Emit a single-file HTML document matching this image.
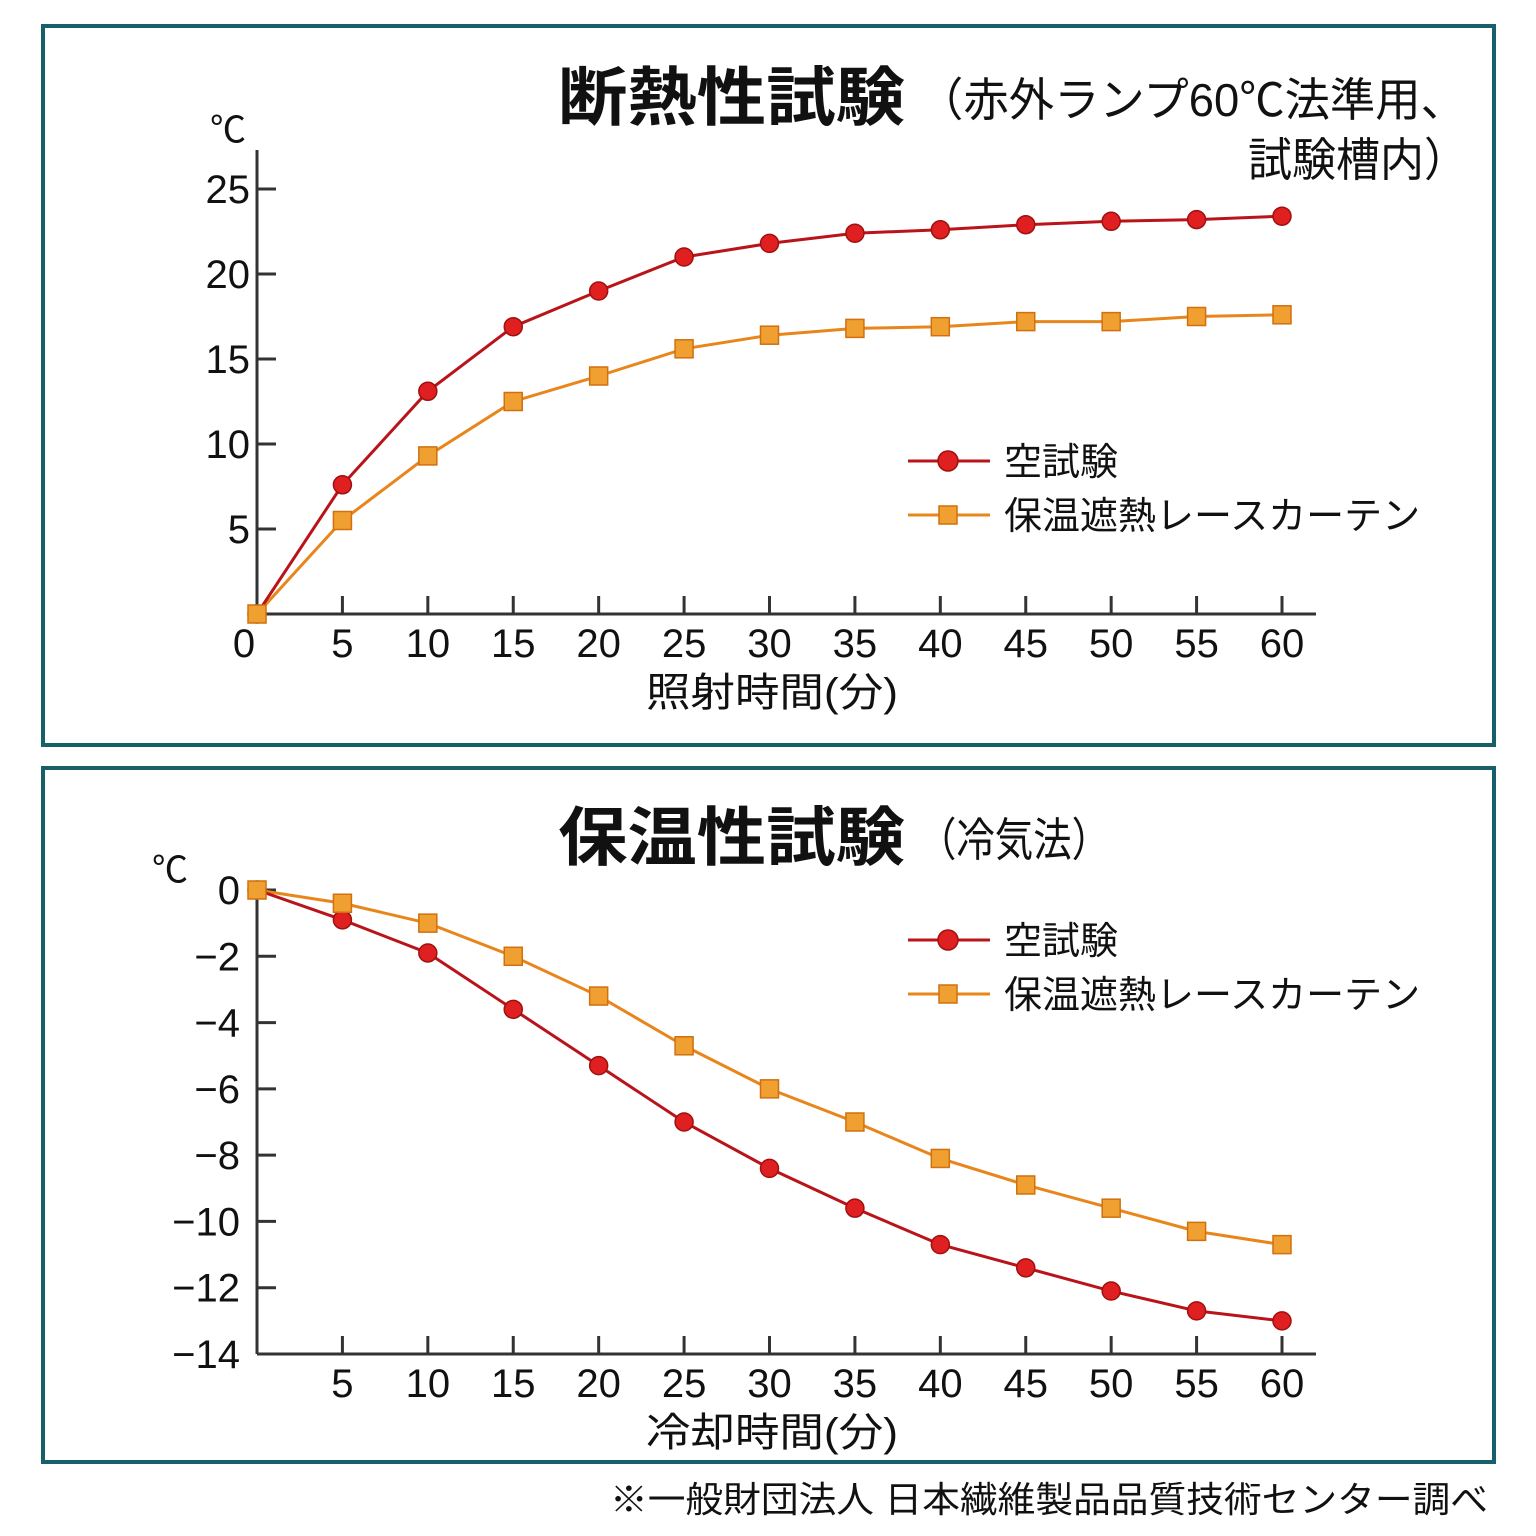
<!DOCTYPE html>
<html><head><meta charset="utf-8"><style>
html,body{margin:0;padding:0;background:#fff;}
svg{display:block;font-family:"Liberation Sans","Noto Sans CJK JP",sans-serif;}
</style></head><body>
<svg id="s" width="1536" height="1536" viewBox="0 0 1536 1536">
<rect x="0" y="0" width="1536" height="1536" fill="#fff"/>
<rect x="43" y="26" width="1451" height="719" fill="#fff" stroke="#17606a" stroke-width="4"/>
<rect x="43" y="768" width="1451" height="694" fill="#fff" stroke="#17606a" stroke-width="4"/>
<text x="558" y="120" font-size="64" font-weight="bold" fill="#111" textLength="347" lengthAdjust="spacingAndGlyphs">断熱性試験</text>
<text x="918" y="116" font-size="46" fill="#111" textLength="548" lengthAdjust="spacingAndGlyphs">（赤外ランプ60℃法準用、</text>
<text x="1248" y="176" font-size="46" fill="#111" textLength="220" lengthAdjust="spacingAndGlyphs">試験槽内）</text>
<text x="558" y="860" font-size="64" font-weight="bold" fill="#111" textLength="347" lengthAdjust="spacingAndGlyphs">保温性試験</text>
<text x="918" y="856" font-size="46" fill="#111" textLength="192" lengthAdjust="spacingAndGlyphs">（冷気法）</text>
<text x="610" y="1512" font-size="36" fill="#111" textLength="878" lengthAdjust="spacingAndGlyphs">※一般財団法人 日本繊維製品品質技術センター調べ</text>
<g id="g1"></g><g id="g2"></g>
</svg>
<script>
const xCats=[0,5,10,15,20,25,30,35,40,45,50,55,60];
const topRed=[0,7.6,13.1,16.9,19.0,21.0,21.8,22.4,22.6,22.9,23.1,23.2,23.4];
const topOrange=[0,5.5,9.3,12.5,14.0,15.6,16.4,16.8,16.9,17.2,17.2,17.5,17.6];
const topYTicks=[5,10,15,20,25];
const botRed=[0,-0.9,-1.9,-3.6,-5.3,-7.0,-8.4,-9.6,-10.7,-11.4,-12.1,-12.7,-13.0];
const botOrange=[0,-0.4,-1.0,-2.0,-3.2,-4.7,-6.0,-7.0,-8.1,-8.9,-9.6,-10.3,-10.7];
const botYTicks=[0,-2,-4,-6,-8,-10,-12,-14];
const seriesNames=['空試験','保温遮熱レースカーテン'];
const NS='http://www.w3.org/2000/svg';
function mk(p,t,a){const e=document.createElementNS(NS,t);for(const k in a)e.setAttribute(k,a[k]);p.appendChild(e);return e;}
function chart(g,o){
  const xs=v=>257+(v/60)*1025;
  const ys=v=>o.y0+(v-o.vmin)*(o.y1-o.y0)/(o.vmax-o.vmin);
  const ax=mk(g,'line',{x1:257,y1:o.axTop,x2:257,y2:ys(o.vmin),stroke:'#333','stroke-width':3});
  
  
  const xa=mk(g,'line',{x1:257,y1:ys(o.vmin),x2:1316,y2:ys(o.vmin),stroke:'#333','stroke-width':3});
  
  
  o.yt.forEach(v=>{
    if(v!==o.vmin){const tk=mk(g,'line',{x1:257,y1:ys(v),x2:276,y2:ys(v),stroke:'#333','stroke-width':3});
    
    }
    const t=mk(g,'text',{x:o.labX,y:ys(v)+14,'font-size':40,'text-anchor':'end',fill:'#111'});
    t.textContent=v<0?'−'+(-v):v;
    
    
  });
  const c=mk(g,'text',{x:o.unitX,y:o.unitY,'font-size':36,fill:'#111'});c.textContent='℃';
  
  
  xCats.forEach(v=>{
    if(v>0){const tk=mk(g,'line',{x1:xs(v),y1:ys(o.vmin)-18,x2:xs(v),y2:ys(o.vmin),stroke:'#333','stroke-width':3});
    
    }
    if(v>0||o.zeroLab){const t=mk(g,'text',{x:v?xs(v):244,y:ys(o.vmin)+43,'font-size':40,'text-anchor':'middle',fill:'#111'});t.textContent=v;
    
    }
  });
  const xt=mk(g,'text',{x:646,y:ys(o.vmin)+92,'font-size':40,fill:'#111',textLength:252,lengthAdjust:'spacingAndGlyphs'});xt.textContent=o.xTitle;
  
  
  const ser=[{d:o.red,lc:'#b8141a',fc:'#e02020',sh:'c'},{d:o.orange,lc:'#e8861c',fc:'#f0a030',sh:'s'}];
  ser.slice().reverse().forEach(s=>{
    const pl=mk(g,'polyline',{points:s.d.map((v,i)=>xs(xCats[i])+','+ys(v)).join(' '),fill:'none',stroke:s.lc,'stroke-width':3});
    
    
  });
  ser.forEach(s=>{
    s.d.forEach((v,i)=>{
      const x=xs(xCats[i]),y=ys(v);
      let m;
      if(s.sh=='c')m=mk(g,'circle',{cx:x,cy:y,r:9,fill:s.fc,stroke:'#a01010','stroke-width':1.5});
      else m=mk(g,'rect',{x:x-9,y:y-9,width:18,height:18,fill:s.fc,stroke:'#d07010','stroke-width':1.5});
      
      
    });
  });
  ser.forEach((s,k)=>{
    const ly=o.legY+k*54;
    const l=mk(g,'line',{x1:908,y1:ly,x2:990,y2:ly,stroke:s.lc,'stroke-width':3});
    
    
    let m;
    if(s.sh=='c')m=mk(g,'circle',{cx:948,cy:ly,r:10,fill:s.fc,stroke:'#a01010','stroke-width':1.5});
    else m=mk(g,'rect',{x:939,y:ly-9,width:18,height:18,fill:s.fc,stroke:'#d07010','stroke-width':1.5});
    
    
    const t=mk(g,'text',{x:1004,y:ly+14,'font-size':38,fill:'#111'});t.textContent=seriesNames[k];
    
    
  });
}
chart(document.getElementById('g1'),{vmin:0,vmax:25,y0:614,y1:189,axTop:150,yt:topYTicks.concat([]),labX:250,unitX:210,unitY:142,red:topRed,orange:topOrange,xTitle:'照射時間(分)',legY:461,zeroLab:true});
chart(document.getElementById('g2'),{vmin:-14,vmax:0,y0:1354,y1:890,axTop:882,yt:botYTicks,labX:240,unitX:152,unitY:882,red:botRed,orange:botOrange,xTitle:'冷却時間(分)',legY:940,zeroLab:false});
</script>
</body></html>
